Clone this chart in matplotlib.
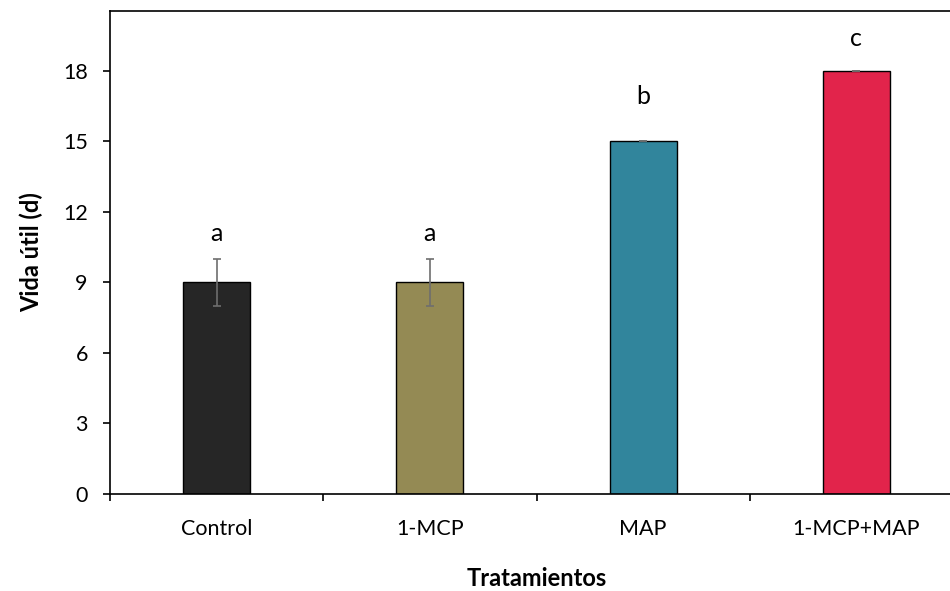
import numpy as np
import matplotlib.pyplot as plt
from matplotlib.ticker import FixedLocator

plt.rcParams['font.family'] = ['Lato', 'DejaVu Sans']

# data
tratamientos = ['Control', '1-MCP', 'MAP', '1-MCP+MAP']
vida_util = [9, 9, 15, 18]
error = [1, 1, 0, 0]
letras = ['a', 'a', 'b', 'c']
letra_y = [11.1, 11.1, 16.9, 19.4]
colores = ['#262626', '#948A54', '#31859C', '#E2244B']

fig = plt.figure(figsize=(9.5, 5.91), dpi=100)
ax = fig.add_axes([110/950, (591-494)/591, (963-110)/950, (494-11)/591])

x = np.arange(len(tratamientos))
ax.bar(x, vida_util, width=0.315, color=colores, edgecolor='black', linewidth=1)
ax.errorbar(x, vida_util, yerr=error, fmt='none', ecolor='#6e6e6e',
            elinewidth=1.2, capsize=3, capthick=1.2)

for xi, l, ly in zip(x, letras, letra_y):
    ax.text(xi, ly, l, ha='center', va='center', fontsize=18)

ax.set_xlim(-0.5, len(tratamientos) - 0.5)
ax.set_ylim(0, 20.55)
ax.set_yticks([0, 3, 6, 9, 12, 15, 18])
ax.set_xticks(x)
ax.set_xticklabels(tratamientos)
ax.xaxis.set_minor_locator(FixedLocator(np.arange(-0.5, len(tratamientos), 1)))

ax.tick_params(axis='x', which='major', length=0, pad=18, labelsize=15.5)
ax.tick_params(axis='x', which='minor', length=5, width=1.2, direction='out')
ax.tick_params(axis='y', length=5, width=1.2, direction='out', pad=11, labelsize=15.5)

for s in ['left', 'bottom', 'top']:
    ax.spines[s].set_linewidth(1.2)
ax.spines['right'].set_visible(False)

ax.set_ylabel('Vida útil (d)', fontsize=17, fontweight='bold', labelpad=14)
ax.set_xlabel('Tratamientos', fontsize=17, fontweight='bold', labelpad=20)

fig.savefig('out.png', dpi=100)
